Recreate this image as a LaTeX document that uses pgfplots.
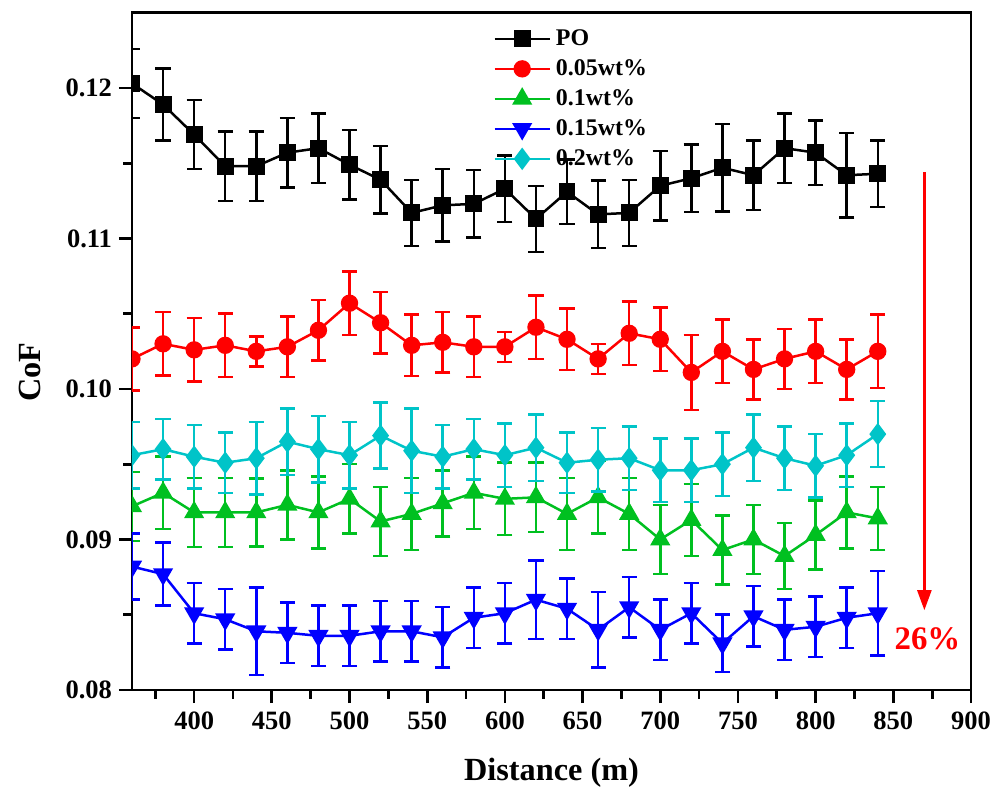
\documentclass[border=0pt]{standalone}
\usepackage{pgfplots}
\usepackage{pgfplotstable}
\pgfplotsset{compat=1.18}
\usetikzlibrary{arrows.meta}
\usepackage{fontspec}
\setmainfont{Liberation Serif}

\definecolor{cofgreen}{RGB}{0,192,32}
\definecolor{cofcyan}{RGB}{0,196,200}

% columns: distance, mean CoF, standard deviation
\pgfplotstableread{
x y e
360 0.1203 0.0023
380 0.1189 0.0024
400 0.1169 0.0023
420 0.1148 0.0023
440 0.1148 0.0023
460 0.1157 0.0023
480 0.1160 0.0023
500 0.1149 0.0023
520 0.1139 0.00225
540 0.1117 0.0022
560 0.1122 0.0024
580 0.1123 0.00225
600 0.1133 0.0022
620 0.1113 0.0022
640 0.1131 0.00215
660 0.1116 0.00225
680 0.1117 0.0022
700 0.1135 0.0023
720 0.1140 0.00225
740 0.1147 0.0029
760 0.1142 0.0023
780 0.1160 0.0023
800 0.1157 0.00215
820 0.1142 0.0028
840 0.1143 0.0022
}\po

\pgfplotstableread{
x y e
360 0.1020 0.0021
380 0.1030 0.0021
400 0.1026 0.0021
420 0.1029 0.0021
440 0.1025 0.0010
460 0.1028 0.0020
480 0.1039 0.0020
500 0.1057 0.0021
520 0.1044 0.00205
540 0.1029 0.00205
560 0.1031 0.0020
580 0.1028 0.0020
600 0.1028 0.0010
620 0.1041 0.0021
640 0.1033 0.00205
660 0.1020 0.0010
680 0.1037 0.0021
700 0.1033 0.0021
720 0.1011 0.0025
740 0.1025 0.0021
760 0.1013 0.0020
780 0.1020 0.0020
800 0.1025 0.0021
820 0.1013 0.0020
840 0.1025 0.00245
}\wta

\pgfplotstableread{
x y e
360 0.0922 0.0023
380 0.0931 0.0024
400 0.0918 0.0023
420 0.0918 0.0023
440 0.0918 0.00225
460 0.0923 0.0023
480 0.0918 0.0024
500 0.0927 0.0023
520 0.0912 0.0023
540 0.0917 0.0024
560 0.0924 0.0022
580 0.0931 0.0024
600 0.0927 0.0024
620 0.0928 0.0023
640 0.0917 0.0024
660 0.0928 0.0024
680 0.0917 0.0024
700 0.0900 0.0023
720 0.0913 0.0024
740 0.0893 0.0023
760 0.0900 0.0023
780 0.0889 0.0022
800 0.0903 0.0023
820 0.0918 0.0024
840 0.0914 0.0021
}\wtb

\pgfplotstableread{
x y e
360 0.0882 0.0022
380 0.0877 0.0021
400 0.0851 0.0020
420 0.0847 0.0020
440 0.0839 0.0029
460 0.0838 0.0020
480 0.0836 0.0020
500 0.0836 0.0020
520 0.0839 0.0020
540 0.0839 0.0020
560 0.0835 0.0020
580 0.0848 0.0020
600 0.0851 0.0020
620 0.0860 0.0026
640 0.0854 0.0020
660 0.0840 0.0025
680 0.0855 0.0020
700 0.0840 0.0020
720 0.0851 0.0020
740 0.0831 0.0019
760 0.0849 0.0020
780 0.0840 0.0020
800 0.0842 0.0020
820 0.0848 0.0020
840 0.0851 0.0028
}\wtc

\pgfplotstableread{
x y e
360 0.0956 0.0022
380 0.0960 0.0020
400 0.0955 0.0021
420 0.0951 0.0020
440 0.0954 0.0024
460 0.0965 0.0022
480 0.0960 0.0022
500 0.0956 0.0022
520 0.0969 0.0022
540 0.0959 0.0028
560 0.0955 0.0021
580 0.0960 0.0020
600 0.0956 0.0021
620 0.0961 0.0022
640 0.0951 0.0020
660 0.0953 0.0021
680 0.0954 0.0021
700 0.0946 0.0021
720 0.0946 0.0021
740 0.0950 0.0021
760 0.0961 0.0022
780 0.0954 0.0021
800 0.0949 0.0021
820 0.0956 0.0021
840 0.0970 0.0022
}\wtd

\begin{document}
\begin{tikzpicture}
\useasboundingbox (-66bp,-48.5bp) rectangle (433.5bp,345bp);
\begin{axis}[
  scale only axis,
  width=419.5bp, height=338.65bp,
  xmin=360, xmax=900, ymin=0.08, ymax=0.125,
  axis line style={line width=1.35bp},
  xtick pos=left, ytick pos=left,
  clip marker paths=true,
  xtick={400,450,...,900},
  minor xtick={375,425,...,875},
  ytick={0.08,0.09,0.10,0.11,0.12},
  minor ytick={0.085,0.095,0.105,0.115},
  tick align=outside,
  major tick length=6.5bp, minor tick length=4.3bp,
  every tick/.style={black, line width=1.35bp},
  tick label style={font=\fontsize{13.3}{15}\selectfont\bfseries},
  yticklabel style={/pgf/number format/.cd, fixed, fixed zerofill, precision=2, assume math mode=true},
  xticklabel style={/pgf/number format/assume math mode=true, yshift=-1bp},
  scaled y ticks=false,
  xlabel={Distance (m)},
  ylabel={CoF},
  label style={font=\fontsize{16.2}{19}\selectfont\bfseries},
  xlabel style={at={([yshift=-41.5bp]axis description cs:0.5,0)}, anchor=center},
  ylabel style={at={([xshift=-51bp]axis description cs:0,0.4695)}, anchor=center},
  every axis plot/.append style={line width=1.25bp},
  error bars/y dir=both, error bars/y explicit,
  error bars/error mark options={rotate=90, mark size=3.8bp, line width=1.25bp},
  error bars/error bar style={line width=1.25bp},
  legend style={draw=none, fill=none, at={(rel axis cs:0.4232,0.99)}, anchor=north west,
    font=\fontsize{12}{14}\selectfont\bfseries, row sep=0pt, column sep=2.5bp,
    nodes={inner sep=0pt, minimum height=15bp}},
  legend cell align=left,
  legend image code/.code={\draw[mark repeat=2,mark phase=2,#1] plot coordinates {(0bp,0bp) (13.75bp,0bp) (27.5bp,0bp)};},
]
\addplot[black, mark=square*, mark size=3.6bp, mark options={solid}] table[x=x, y=y, y error=e] {\po};
\addlegendentry{PO}
\addplot[red, mark=*, mark size=3.7bp, mark options={solid}] table[x=x, y=y, y error=e] {\wta};
\addlegendentry{0.05wt\%}
\addplot[cofgreen, mark=triangle*, mark size=4.6bp, mark options={solid}] table[x=x, y=y, y error=e] {\wtb};
\addlegendentry{0.1wt\%}
\addplot[blue, mark=triangle*, mark size=4.6bp, mark options={solid, rotate=180}] table[x=x, y=y, y error=e] {\wtc};
\addlegendentry{0.15wt\%}
\addplot[cofcyan, mark=diamond*, mark size=4.6bp, mark options={solid}] table[x=x, y=y, y error=e] {\wtd};
\addlegendentry{0.2wt\%}
\draw[red, line width=1.2bp, -{Triangle[length=10bp, width=7bp]}] (axis cs:870,0.1144) -- (axis cs:870,0.0853);
\node[red, font=\fontsize{16.5}{19}\selectfont\bfseries] at (axis cs:872,0.0834) {26\%};
\end{axis}
\end{tikzpicture}
\end{document}
